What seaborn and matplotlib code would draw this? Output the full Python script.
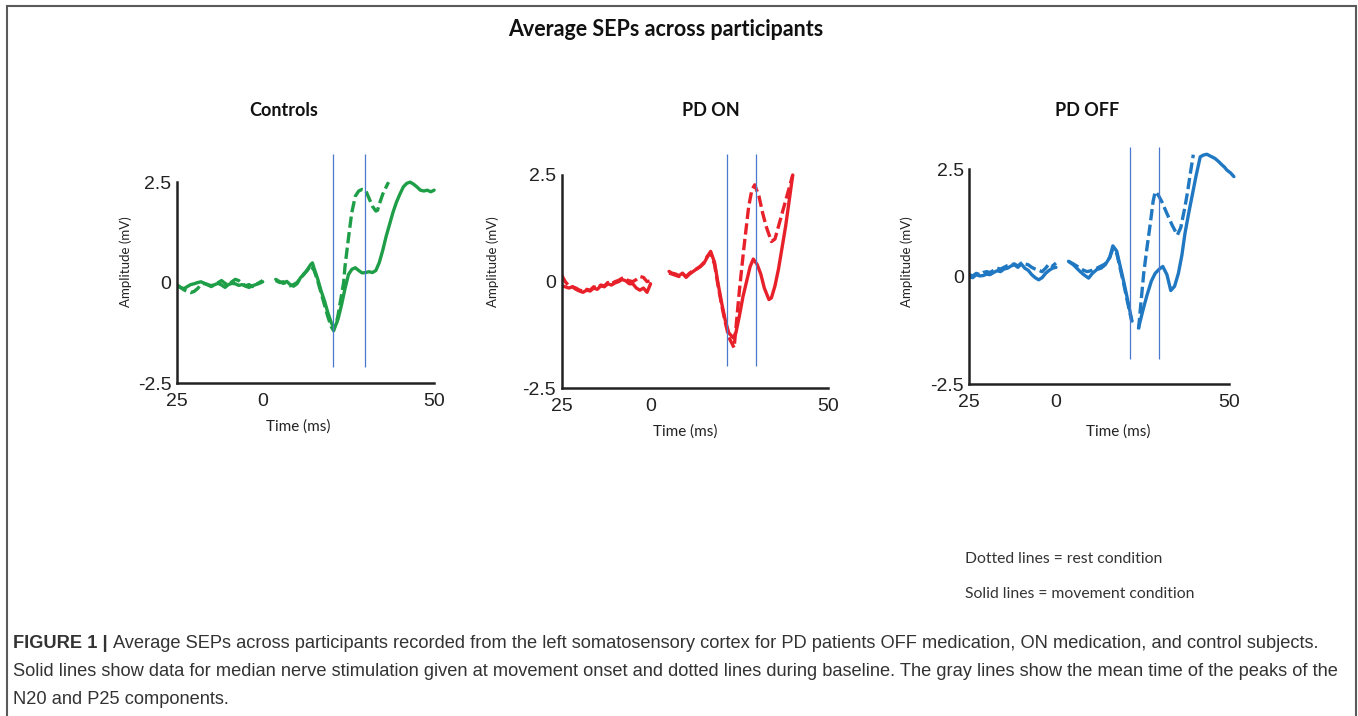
import numpy as np
import matplotlib
matplotlib.use("Agg")
import matplotlib.pyplot as plt
from matplotlib.patches import Rectangle
import seaborn as sns

nan = np.nan

# panels and colours
groups = ["Controls", "PD ON", "PD OFF"]
group_colors = ["#1f9e48", "#e8202a", "#1f78c1"]

# time points shared by the pre-stimulus part (ms)
pre_t = [-25, -24, -23, -22, -21, -20, -19, -18, -17, -16, -15, -14, -13,
         -12, -11, -10, -9, -8, -7, -6, -5, -4, -3, -2, -1, 0]

# ---- Controls ----
ctrl_move_pre = [-0.08, -0.12, -0.15, -0.1, -0.05, -0.03, 0.0, 0.02, -0.02, -0.06, -0.1, -0.05, -0.02,
                 -0.06, -0.12, -0.05, -0.02, -0.03, -0.07, -0.05, -0.09, -0.12, -0.08, -0.05, -0.02, 0.02]
ctrl_rest_pre = [-0.05, -0.12, -0.18, -0.22, -0.25, -0.22, -0.15, -0.05, -0.02, -0.05, -0.08, -0.04, 0.0,
                 0.05, -0.02, -0.06, 0.02, 0.08, 0.05, -0.02, -0.08, -0.05, -0.1, -0.05, 0.0, 0.05]
ctrl_move_t = [3.8, 5, 6, 7, 8, 9, 10, 11, 12, 13, 14, 14.5, 15, 16, 17, 18, 19, 20, 20.8, 21.5, 22, 23,
               24, 25, 26, 27, 28, 29, 30, 31, 32, 33, 34, 35, 36, 37, 38, 39, 40, 41, 42, 43, 44, 45,
               46, 47, 48, 49, 50]
ctrl_move_y = [0.08, 0.02, -0.02, 0.03, -0.05, -0.09, -0.03, 0.12, 0.2, 0.32, 0.45, 0.49, 0.35, 0.1,
               -0.2, -0.45, -0.75, -1.0, -1.13, -1.02, -0.9, -0.55, -0.15, 0.2, 0.33, 0.37, 0.3, 0.24,
               0.25, 0.27, 0.25, 0.3, 0.5, 0.8, 1.15, 1.45, 1.75, 2.0, 2.2, 2.38, 2.47, 2.5, 2.45, 2.38,
               2.3, 2.28, 2.3, 2.26, 2.3]
ctrl_rest_t = [3.8, 5, 6, 7, 8, 9, 10, 11, 12, 13, 14, 15, 16, 17, 18, 19, 20, 20.7, 21.5, 22, 23, 23.6,
               24, 25, 25.6, 26, 27, 28, 29, 30, 31, 32, 33, 33.5, 34, 35, 36, 36.7]
ctrl_rest_y = [0.05, 0.0, 0.02, -0.03, -0.08, -0.05, 0.0, 0.1, 0.22, 0.3, 0.42, 0.3, 0.05, -0.25, -0.55,
               -0.85, -1.1, -1.2, -1.0, -0.8, -0.3, 0.0, 0.4, 1.1, 1.5, 1.75, 2.15, 2.28, 2.32, 2.3, 2.1,
               1.9, 1.78, 1.8, 1.95, 2.2, 2.38, 2.5]

# ---- PD ON ----
on_move_pre = [-0.1, -0.12, -0.15, -0.12, -0.18, -0.22, -0.25, -0.2, -0.22, -0.15, -0.18, -0.1, -0.12,
               -0.05, -0.08, -0.03, 0.0, 0.05, 0.02, -0.05, -0.05, -0.15, -0.2, -0.15, -0.25, -0.05]
on_rest_pre = [0.15, 0.0, -0.1, -0.12, -0.15, -0.2, -0.22, -0.18, -0.2, -0.12, -0.15, -0.08, -0.1,
               -0.02, -0.05, 0.0, 0.03, 0.08, 0.05, 0.02, 0.0, 0.05, 0.12, 0.1, 0.0, 0.02]
on_move_t = [5.2, 6, 7, 8, 9, 10, 11, 12, 13, 14, 15, 16, 16.9, 18, 19, 20, 21, 22, 23.3, 24, 25, 26,
             27, 28, 28.9, 30, 31, 32, 33.3, 34, 35, 36, 37, 38, 39, 40]
on_move_y = [0.24, 0.2, 0.18, 0.14, 0.2, 0.1, 0.18, 0.24, 0.3, 0.35, 0.43, 0.58, 0.71, 0.45, -0.05,
             -0.5, -0.9, -1.2, -1.32, -1.2, -0.8, -0.35, 0.0, 0.35, 0.53, 0.4, 0.18, -0.15, -0.42,
             -0.38, -0.1, 0.3, 0.8, 1.3, 1.9, 2.5]
on_rest_t = [5.2, 6, 7, 8, 9, 10, 11, 12, 13, 14, 15, 16, 16.9, 18, 19, 20, 21, 22, 23.5, 24.4, 25,
             26.2, 27.6, 28.5, 29.3, 30.5, 31.5, 32.5, 34, 35, 36, 37, 38, 39, 40]
on_rest_y = [0.2, 0.18, 0.15, 0.12, 0.18, 0.12, 0.2, 0.26, 0.3, 0.36, 0.45, 0.6, 0.68, 0.4, -0.1,
             -0.55, -0.95, -1.3, -1.55, -0.74, -0.2, 0.75, 1.76, 2.15, 2.27, 2.0, 1.62, 1.3, 0.94,
             1.0, 1.3, 1.6, 1.9, 2.2, 2.5]

# ---- PD OFF ----
off_move_pre = [0.0, -0.02, 0.05, 0.02, 0.03, 0.06, 0.05, 0.1, 0.14, 0.12, 0.18, 0.2, 0.25,
                0.28, 0.22, 0.3, 0.2, 0.15, 0.05, -0.02, -0.07, -0.02, 0.08, 0.15, 0.2, 0.22]
off_rest_pre = [0.05, 0.02, 0.08, 0.05, 0.1, 0.12, 0.1, 0.15, 0.2, 0.18, 0.22, 0.26, 0.28,
                0.3, 0.25, 0.32, 0.3, 0.28, 0.22, 0.18, 0.15, 0.12, 0.2, 0.3, 0.25, 0.32]
off_move_t = [3.6, 5, 6, 7, 8, 9.4, 10.5, 11.8, 13, 14.2, 15.5, 16.4, 17.5, 18.5, 19.5, 20.4, 21.2,
              21.9, nan, 23.8, 25, 26.2, 27.5, 28.6, 29.8, 30.8, 32, 33.1, 34.2, 35.3, 36.3, 37.2,
              38.2, 39.2, 40.4, 41.6, 42.5, 43.5, 44.7, 45.9, 46.9, 47.9, 48.6, 49.3, 50.3, 51.3]
off_move_y = [0.36, 0.28, 0.2, 0.12, 0.05, -0.03, 0.08, 0.17, 0.2, 0.28, 0.45, 0.72, 0.6, 0.25, -0.1,
              -0.44, -0.75, -1.03, nan, -1.19, -0.8, -0.44, -0.1, 0.08, 0.18, 0.24, 0.05, -0.32,
              -0.22, 0.08, 0.5, 1.01, 1.45, 1.86, 2.35, 2.79, 2.83, 2.85, 2.8, 2.75, 2.68, 2.6, 2.55,
              2.48, 2.42, 2.33]
off_rest_t = [3.6, 5, 6, 7, 8, 9, 10.5, 11.8, 13, 14.2, 15.5, 16.4, 17.5, 18.5, 19.5, 20.4, 21.2, 21.9,
              nan, 23.8, 24.5, 25.3, 26.2, 27.2, 28, 28.6, 29.5, 30.5, 32, 33.5, 35, 36, 37.2, 38,
              38.6, 39.6]
off_rest_y = [0.36, 0.3, 0.25, 0.2, 0.15, 0.12, 0.15, 0.2, 0.25, 0.3, 0.45, 0.65, 0.55, 0.2, -0.15,
              -0.5, -0.8, -1.05, nan, -1.22, -0.6, 0.08, 0.65, 1.24, 1.75, 1.98, 1.9, 1.75, 1.47, 1.2,
              0.97, 1.15, 1.63, 2.0, 2.33, 2.84]

# mean N20 / P25 peak times and the extent of the marker lines
peak_times = [[20.6, 29.7], [21.4, 29.6], [21.3, 29.7]]
peak_line_lo = [-2.1, -1.98, -1.91]
peak_line_hi = [3.2, 3.0, 3.03]

x_ticks = [-25, 0, 50]
x_tick_labels = ["25", "0", "50"]
y_ticks = [-2.5, 0, 2.5]
y_tick_labels = ["-2.5", "0", "2.5"]

caption_bold = "FIGURE 1 | "
caption_lines = [
    "Average SEPs across participants recorded from the left somatosensory cortex for PD patients OFF medication, ON medication, and control subjects.",
    "Solid lines show data for median nerve stimulation given at movement onset and dotted lines during baseline. The gray lines show the mean time of the peaks of the",
    "N20 and P25 components.",
]

sns.set_theme(style="white")
plt.rcParams["font.family"] = ["Liberation Sans", "DejaVu Sans"]

W, H = 1358, 716
fig = plt.figure(figsize=(W / 100, H / 100), dpi=100)
r = fig.canvas.get_renderer()


def px_rect(x0, x1, ytop, ybot):
    return [x0 / W, 1 - ybot / H, (x1 - x0) / W, (ybot - ytop) / H]


def fx(px):
    return px / W


def fy(py):
    return 1 - py / H


def pieces(t, y):
    # split a trace into parts wherever a nan marks a gap
    t = np.asarray(t, float)
    y = np.asarray(y, float)
    gap = np.isnan(y)
    ids = np.cumsum(gap)
    for g in np.unique(ids):
        m = (ids == g) & ~gap
        if m.sum() > 1:
            yield t[m], y[m]


# pixel boxes of the three panels (left, right, top, bottom)
panel_px = [(177, 441, 146, 383), (561.7, 835.4, 136.6, 388.3), (969.3, 1236.3, 130.6, 384.3)]
title_px = [(284, 110), (711, 110), (1087, 110)]
ylab_px = [(126, 262), (493, 262), (907, 262)]
xlab_px = [(298, 427), (685, 432), (1118, 432)]

traces = [
    (ctrl_move_pre, ctrl_rest_pre, ctrl_move_t, ctrl_move_y, ctrl_rest_t, ctrl_rest_y),
    (on_move_pre, on_rest_pre, on_move_t, on_move_y, on_rest_t, on_rest_y),
    (off_move_pre, off_rest_pre, off_move_t, off_move_y, off_rest_t, off_rest_y),
]

for i, name in enumerate(groups):
    ax = fig.add_axes(px_rect(*panel_px[i]))
    col = group_colors[i]
    mv_pre, rs_pre, mv_t, mv_y, rs_t, rs_y = traces[i]

    # dotted = rest, solid = movement
    for tt, yy, dashed in [(pre_t, rs_pre, True), (rs_t, rs_y, True),
                           (pre_t, mv_pre, False), (mv_t, mv_y, False)]:
        for ts, ys in pieces(tt, yy):
            sns.lineplot(x=ts, y=ys, ax=ax, color=col, lw=2.4, estimator=None, sort=False)
            if dashed:
                ax.lines[-1].set_linestyle((0, (3.4, 1.3)))

    for pt in peak_times[i]:
        ax.vlines(pt, peak_line_lo[i], peak_line_hi[i], color="#4a78cc", lw=0.9)

    ax.set_xlim(-25, 52)
    ax.set_ylim(-2.5, 3.4)
    sns.despine(ax=ax)
    ax.spines["left"].set_bounds(-2.5, 2.5)
    ax.spines["bottom"].set_bounds(-25, 50)
    for s in ["left", "bottom"]:
        ax.spines[s].set_color("#222222")
        ax.spines[s].set_linewidth(1.8)
    ax.set_xticks(x_ticks)
    ax.set_xticklabels(x_tick_labels)
    ax.set_yticks(y_ticks)
    ax.set_yticklabels(y_tick_labels)
    ax.tick_params(direction="in", length=4, width=1.5, color="#222222",
                   labelsize=14, labelcolor="#222222")
    ax.tick_params(axis="x", pad=7)
    ax.tick_params(axis="y", pad=4)
    ax.set_xlabel("Time (ms)", fontsize=11, family=["Lato", "DejaVu Sans"], color="#222222", va="center")
    ax.set_ylabel("Amplitude (mV)", fontsize=9.5, family=["Lato", "DejaVu Sans"], color="#222222", va="center")
    ax.xaxis.set_label_coords(fx(xlab_px[i][0]), fy(xlab_px[i][1]), transform=fig.transFigure)
    ax.yaxis.set_label_coords(fx(ylab_px[i][0]), fy(ylab_px[i][1]), transform=fig.transFigure)
    ax.patch.set_alpha(0)

    fig.text(fx(title_px[i][0]), fy(title_px[i][1]), name, ha="center", va="center",
             fontsize=13, fontweight="bold", family=["Lato", "DejaVu Sans"], color="#111111")

fig.text(fx(666), fy(30), "Average SEPs across participants", ha="center", va="center",
         fontsize=15.5, fontweight="bold", family=["Lato", "DejaVu Sans"], color="#111111")

fig.text(fx(965), fy(559), "Dotted lines = rest condition", ha="left", va="center",
         fontsize=11.3, family=["Lato", "DejaVu Sans"], color="#333333")
fig.text(fx(965), fy(594), "Solid lines = movement condition", ha="left", va="center",
         fontsize=11.3, family=["Lato", "DejaVu Sans"], color="#333333")

# caption with bold figure label, sized so the first line ends where the reference's does
cap_font = ["Liberation Sans", "DejaVu Sans"]
cap_y = [644, 672, 699]
probe_b = fig.text(0, 0, caption_bold, fontsize=14, fontweight="bold", family=cap_font)
probe_r = fig.text(0, 0, caption_lines[0], fontsize=14, family=cap_font)
full_w = probe_b.get_window_extent(r).width + probe_r.get_window_extent(r).width
probe_b.remove()
probe_r.remove()
cap_size = 14 * (1330 - 13) / full_w

for k, line in enumerate(caption_lines):
    x0 = fx(13)
    if k == 0:
        tb = fig.text(x0, fy(cap_y[k]), caption_bold, ha="left", va="center", fontsize=cap_size,
                      fontweight="bold", family=cap_font, color="#333333")
        x0 = tb.get_window_extent(r).x1 / W
    fig.text(x0, fy(cap_y[k]), line, ha="left", va="center", fontsize=cap_size,
             family=cap_font, color="#333333")

fig.add_artist(Rectangle((fx(7), -0.02), fx(1356) - fx(7), fy(6) + 0.02, fill=False,
                         edgecolor="#5a5a5a", lw=1.5, transform=fig.transFigure))

fig.savefig("out.png", dpi=100)
